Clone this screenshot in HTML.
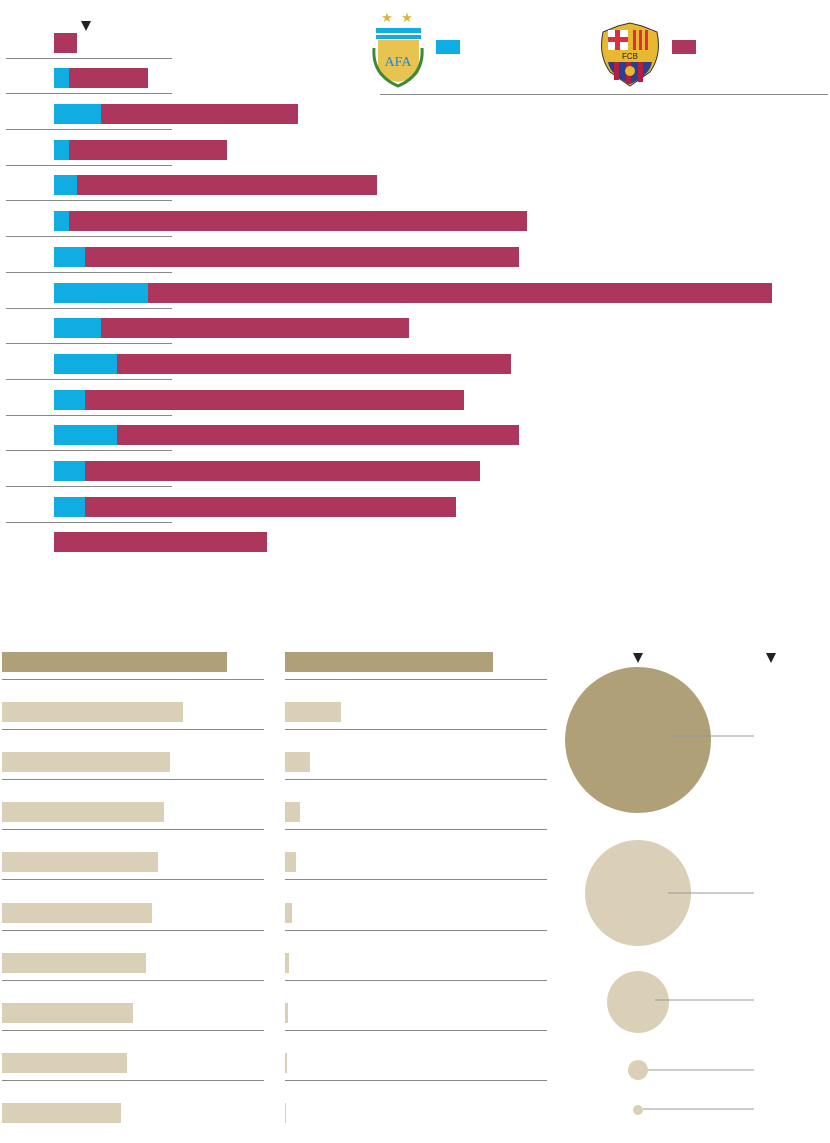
<!DOCTYPE html><html><head><style>
body{margin:0;width:830px;height:1143px;background:#fff;position:relative;overflow:hidden;font-family:"Liberation Sans",sans-serif}
div{position:absolute}
.m{background:#ad365c}.b{background:#10ade3}.t{background:#b0a078}.l{background:#d9d0b7}
.ln{height:1px;background:#888}
</style></head><body>
<svg style="position:absolute;left:0;top:0" width="830" height="1143">
<polygon points="81,21 91,21 86,31" fill="#222"/>
<polygon points="633,653 643,653 638,663" fill="#222"/>
<polygon points="766,653 776,653 771,663" fill="#222"/>
<text x="387" y="22" font-size="13" fill="#e0b030" text-anchor="middle">★</text>
<text x="407" y="22" font-size="13" fill="#e0b030" text-anchor="middle">★</text>
<rect x="376" y="28" width="45" height="5" fill="#10ade3"/><rect x="376" y="35" width="45" height="4" fill="#10ade3"/>
<path d="M378,40 L419,40 L419,70 Q419,78 398,82 Q378,78 378,70 Z" fill="#e8c350"/>
<text x="398" y="66" font-size="14" fill="#2a86c8" text-anchor="middle" font-family="Liberation Serif">AFA</text>
<path d="M374,48 Q372,75 398,86 Q424,75 422,48" fill="none" stroke="#3a8a3a" stroke-width="3"/>
<path d="M603,32 L618,26 L630,23 L642,26 L657,32 Q662,55 650,72 L630,86 L610,72 Q598,55 603,32 Z" fill="#e8b830" stroke="#333"/>
<rect x="608" y="30" width="20" height="20" fill="#fff"/><rect x="615" y="30" width="5" height="20" fill="#d83040"/><rect x="608" y="37" width="20" height="5" fill="#d83040"/>
<rect x="630" y="30" width="22" height="20" fill="#e8b830"/>
<rect x="633" y="30" width="3" height="20" fill="#d83040"/><rect x="639" y="30" width="3" height="20" fill="#d83040"/><rect x="645" y="30" width="3" height="20" fill="#d83040"/>
<text x="630" y="59" font-size="8" fill="#222" text-anchor="middle">FCB</text>
<path d="M608,62 L652,62 Q650,75 630,84 Q610,75 608,62 Z" fill="#2a3f8f"/>
<rect x="614" y="62" width="5" height="18" fill="#b02040"/><rect x="626" y="62" width="5" height="22" fill="#b02040"/><rect x="638" y="62" width="5" height="20" fill="#b02040"/>
<circle cx="630" cy="71" r="5" fill="#e8b830"/>
<circle cx="638" cy="740" r="73" fill="#b0a078"/>
<circle cx="638" cy="893" r="53" fill="#d9d0b7"/>
<circle cx="638" cy="1002" r="31" fill="#d9d0b7"/>
<circle cx="638" cy="1070" r="10" fill="#d9d0b7"/>
<circle cx="638" cy="1110" r="5" fill="#d9d0b7"/>
<g stroke="#999" stroke-width="1"><line x1="668" y1="736" x2="754" y2="736"/><line x1="668" y1="893" x2="754" y2="893"/><line x1="655" y1="1000" x2="754" y2="1000"/><line x1="648" y1="1070" x2="754" y2="1070"/><line x1="643" y1="1109" x2="754" y2="1109"/></g>
</svg>
<div class="b" style="left:436px;top:40px;width:24px;height:14px"></div>
<div class="m" style="left:672px;top:40px;width:24px;height:14px"></div>
<div class="ln" style="left:380px;top:94px;width:448px"></div>
<div id="top"></div><div id="bot"></div>
<script>
var tops=[33,68,104,140,175,211,247,283,318,354,390,425,461,497,532];
var bl=[54,69,101,69,77,69,85,148,101,117,85,117,85,85,54];
var en=[77,148,298,227,377,527,519,772,409,511,464,519,480,456,267];
var h='';
for(var i=0;i<15;i++){var y=tops[i];
if(bl[i]>54)h+='<div class="b" style="left:54px;top:'+y+'px;width:'+(bl[i]-54)+'px;height:20px"></div>';
h+='<div class="m" style="left:'+bl[i]+'px;top:'+y+'px;width:'+(en[i]-bl[i])+'px;height:20px"></div>';
if(i<14)h+='<div class="ln" style="left:6px;top:'+(y+25)+'px;width:166px"></div>';}
var le=[227,183,170,164,158,152,146,133,127,121],re=[493,341,310,300,296,292,289,288,287,286];
for(var i=0;i<10;i++){var y=652+Math.round(i*50.1);var c=i?'l':'t';
h+='<div class="'+c+'" style="left:2px;top:'+y+'px;width:'+(le[i]-2)+'px;height:20px"></div>';
h+='<div class="'+c+'" style="left:285px;top:'+y+'px;width:'+(re[i]-285)+'px;height:20px"></div>';
if(i<9){h+='<div class="ln" style="left:2px;top:'+(y+27)+'px;width:262px"></div><div class="ln" style="left:285px;top:'+(y+27)+'px;width:262px"></div>';}}
document.getElementById('top').outerHTML=h;
</script>
</body></html>
